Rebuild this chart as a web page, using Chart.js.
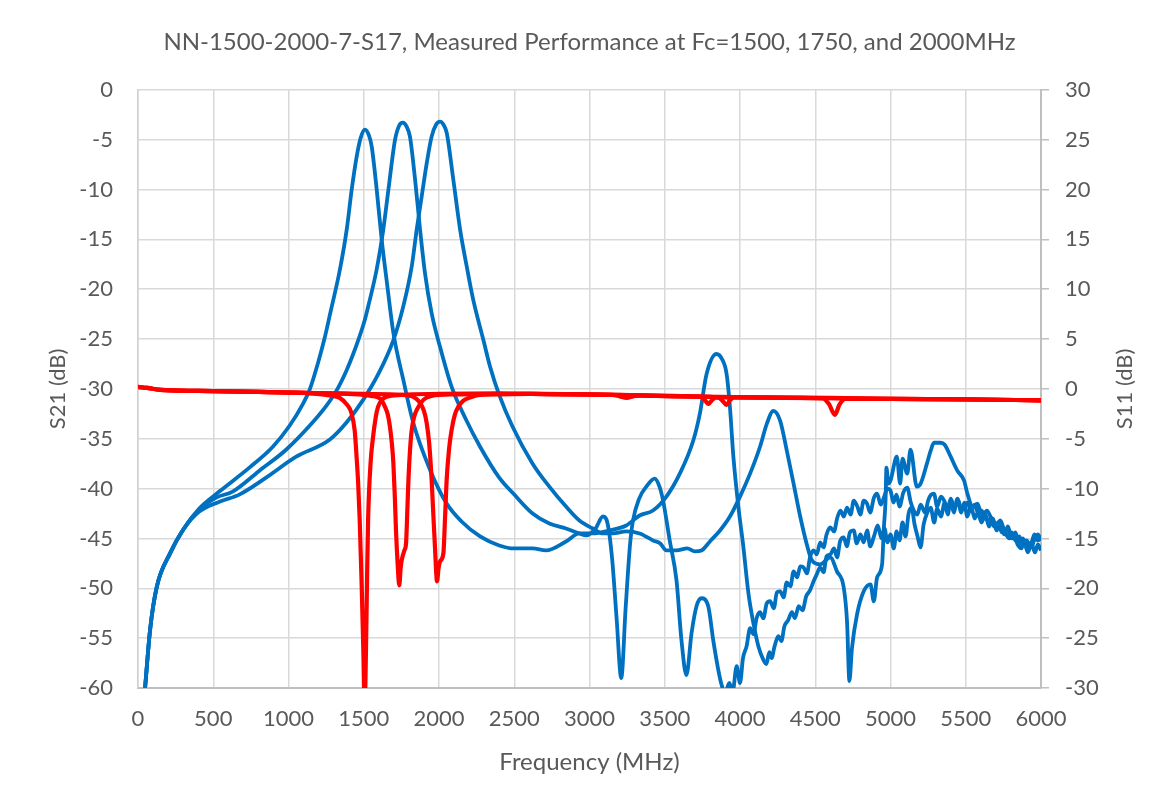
<!DOCTYPE html>
<html>
<head>
<meta charset="utf-8">
<script src="https://cdn.jsdelivr.net/npm/chart.js@4.4.1/dist/chart.umd.min.js"></script>
<style>
  html, body { margin: 0; padding: 0; background: #fff; }
  #wrap { width: 1167px; height: 807px; }
</style>
</head>
<body>
<div id="wrap"><canvas id="myChart" width="1167" height="807"></canvas></div>
<script>
// S21, Fc = 1500 MHz
const s21_1500_f = [47, 80, 124, 213, 301, 407, 540, 740, 896, 1007, 1096, 1140, 1196, 1240, 1276, 1342, 1387, 1420, 1453, 1480, 1508, 1535, 1553, 1586, 1619, 1652, 1697, 1763, 1829, 1940, 2051, 2150, 2273, 2400, 2500, 2622, 2711, 2844, 2933, 3022, 3133, 3244, 3333, 3422, 3511, 3600, 3689, 3733, 3778, 3844, 3880, 3911, 3933, 3956, 3989, 4022, 4056, 4089, 4122, 4156, 4175, 4195, 4210, 4230, 4255, 4275, 4295, 4320, 4345, 4365, 4390, 4415, 4440, 4465, 4489, 4510, 4533, 4555, 4575, 4600, 4625, 4645, 4665, 4689, 4710, 4730, 4756, 4775, 4800, 4822, 4845, 4865, 4890, 4915, 4940, 4960, 4980, 5000, 5022, 5040, 5060, 5080, 5100, 5120, 5140, 5160, 5180, 5200, 5220, 5245, 5267, 5290, 5310, 5335, 5360, 5380, 5400, 5420, 5445, 5470, 5490, 5510, 5535, 5560, 5580, 5605, 5630, 5655, 5680, 5705, 5730, 5756, 5780, 5805, 5830, 5855, 5880, 5911, 5935, 5960, 5980, 6000];
const s21_1500_db = [-60, -54.2, -49.9, -46.5, -44.1, -42, -40.3, -37.9, -35.8, -33.7, -31.5, -30.1, -27.4, -24.9, -22.5, -18, -14, -10, -6.7, -4.8, -4.0, -4.6, -5.7, -10, -15, -19.1, -24.4, -29.1, -33.4, -38.1, -41.5, -43.3, -44.8, -45.7, -46, -46, -46.2, -45.3, -44.5, -44.5, -44.2, -43.7, -42.7, -42.2, -40.8, -38.5, -35.2, -32.5, -28.5, -26.5, -27, -28.5, -31.8, -36.8, -41.8, -45.8, -50.5, -53.5, -55.8, -57.2, -57.6, -56.4, -57, -55.8, -54.8, -55.3, -53.8, -53.2, -52.4, -53, -51.8, -52.2, -50.8, -50.2, -49.3, -48.6, -47.9, -48.4, -46.8, -46.6, -46, -46.9, -45.3, -44.9, -45.8, -44.4, -44.2, -45.5, -44.6, -45.4, -44.2, -45.8, -44.8, -43.7, -45, -44, -45.4, -44.6, -46, -44.3, -45.2, -43.4, -44.8, -42.5, -41.9, -43.6, -44.8, -45.9, -43.6, -42.4, -41.9, -43.4, -42, -42.8, -41.4, -42.6, -41.2, -42.4, -41, -42.4, -41.4, -42.8, -41.8, -43, -42.4, -43.4, -42.6, -43.8, -43, -44.2, -43.6, -44.6, -43.8, -45, -44.4, -45.6, -45, -46.2, -45.4, -46.4, -45.6, -46.2];

// S21, Fc = 1750 MHz
const s21_1750_f = [47, 80, 124, 213, 301, 407, 520, 629, 807, 984, 1140, 1251, 1318, 1384, 1430, 1475, 1505, 1530, 1586, 1630, 1664, 1708, 1735, 1759, 1785, 1807, 1841, 1874, 1907, 1951, 2007, 2084, 2180, 2273, 2400, 2500, 2622, 2733, 2844, 2933, 2978, 3040, 3089, 3120, 3150, 3180, 3211, 3240, 3270, 3289, 3330, 3378, 3433, 3465, 3489, 3533, 3578, 3611, 3644, 3678, 3711, 3744, 3789, 3822, 3856, 3878, 3900, 3930, 3950, 3978, 4000, 4020, 4044, 4067, 4089, 4110, 4133, 4155, 4178, 4200, 4225, 4245, 4267, 4290, 4310, 4335, 4356, 4380, 4400, 4422, 4445, 4465, 4489, 4510, 4533, 4555, 4575, 4600, 4625, 4645, 4667, 4690, 4711, 4735, 4756, 4780, 4800, 4822, 4844, 4865, 4890, 4911, 4935, 4956, 4980, 5000, 5020, 5040, 5060, 5085, 5111, 5135, 5155, 5178, 5200, 5230, 5250, 5270, 5289, 5310, 5335, 5356, 5380, 5400, 5425, 5450, 5470, 5489, 5510, 5535, 5560, 5580, 5605, 5630, 5667, 5690, 5715, 5740, 5756, 5780, 5805, 5830, 5855, 5880, 5905, 5933, 5955, 5980, 6000];
const s21_1750_db = [-60, -54.2, -49.9, -46.5, -44.1, -42.1, -40.9, -40.3, -38.2, -36.1, -33.7, -31.7, -30.2, -28.2, -26.5, -24.6, -23.2, -21.7, -18, -14, -10, -5, -3.6, -3.3, -3.7, -4.7, -9, -14, -18.4, -22.4, -25.8, -29.8, -33.1, -35.8, -38.9, -40.6, -42.5, -43.5, -44, -44.5, -44.7, -44, -42.8, -43.5, -47, -53, -59, -52, -45.5, -43.2, -41, -39.8, -39, -39.8, -41.2, -45.2, -49.2, -55.2, -58.7, -54.5, -51.8, -51, -51.8, -55.2, -58.2, -59.7, -60.5, -59.5, -60.5, -57.8, -59.5, -57, -55.8, -54, -54.6, -53, -52.4, -53, -51.5, -51.3, -52, -50.4, -50.3, -50.9, -49.4, -49.8, -48.3, -48.9, -47.8, -47.9, -48.5, -46.9, -46.2, -46.6, -45.4, -45.9, -44.6, -43.9, -44.3, -43, -42.2, -42.8, -41.9, -42.6, -41.2, -41.8, -42.6, -41.2, -41.5, -42.4, -40.9, -40.5, -41.6, -40.9, -40, -40.2, -41.4, -40.6, -41.8, -40.4, -39.9, -41.4, -42.2, -42.6, -41.6, -42.4, -41.2, -40.6, -40.5, -41.8, -40.8, -41.2, -42, -41, -41.9, -41.2, -42, -41.9, -41.4, -42.2, -41.6, -42.4, -42.2, -43, -43.2, -43.8, -43.4, -44.4, -44.2, -44.8, -44.4, -45.2, -44.8, -45.6, -45.2, -45.9, -45.2, -44.6, -45.2];

// S21, Fc = 2000 MHz
const s21_2000_f = [47, 80, 124, 213, 301, 407, 545, 673, 851, 1051, 1273, 1384, 1496, 1597, 1697, 1763, 1819, 1852, 1885, 1918, 1951, 1980, 2007, 2030, 2051, 2095, 2140, 2184, 2228, 2295, 2340, 2400, 2489, 2622, 2733, 2844, 2933, 3022, 3089, 3156, 3244, 3333, 3422, 3470, 3511, 3578, 3650, 3700, 3744, 3800, 3867, 3933, 4000, 4067, 4133, 4178, 4222, 4267, 4311, 4356, 4400, 4444, 4478, 4533, 4600, 4644, 4689, 4711, 4727, 4744, 4778, 4822, 4867, 4889, 4911, 4944, 4956, 4967, 4973, 4986, 5000, 5042, 5064, 5080, 5111, 5133, 5175, 5200, 5242, 5267, 5289, 5333, 5360, 5400, 5444, 5489, 5511, 5545, 5578, 5610, 5640, 5667, 5700, 5730, 5756, 5790, 5820, 5844, 5870, 5890, 5911, 5935, 5956, 5980, 6000];
const s21_2000_db = [-60, -54.2, -49.9, -46.5, -44.1, -42.3, -41.3, -40.6, -38.9, -36.8, -35.1, -33.4, -31.1, -28.5, -25.1, -21.7, -17.7, -14, -10.7, -7.4, -4.7, -3.5, -3.2, -3.5, -4.3, -9, -14, -17.7, -21.1, -25.1, -27.8, -30.6, -33.8, -37.5, -39.8, -41.8, -43.2, -44, -44.5, -44.5, -44.3, -44.5, -45.2, -45.5, -46.2, -46.2, -46, -46.3, -46.2, -45.3, -44.2, -42.8, -40.8, -38.5, -35.8, -33.5, -32.2, -33.2, -36.2, -39.5, -42.8, -45.6, -47.2, -47.6, -46.9, -48.3, -49.9, -53.3, -59.3, -56, -52.6, -50.3, -49.6, -51.3, -48.9, -47.6, -43.9, -41.2, -37.9, -39.5, -39.2, -36.8, -39.5, -37, -38.5, -36.1, -39.8, -39.5, -37.5, -36.2, -35.4, -35.4, -35.6, -36.8, -38.2, -39.2, -40.5, -41.8, -41.5, -42.8, -42.2, -42.9, -43.8, -43.2, -44.2, -45, -44.6, -45.6, -46, -45.2, -46.4, -45.6, -44.6, -45.2, -44.9];

// S11, Fc = 1500 MHz
const s11_1500_f = [0, 60, 150, 400, 800, 1100, 1250, 1340, 1390, 1418, 1440, 1451, 1463, 1473, 1485, 1497, 1506, 1515, 1522, 1529, 1545, 1562, 1580, 1595, 1620, 1651, 1750, 2000, 2400, 2800, 3200, 3600, 3740, 3770, 3790, 3810, 3840, 4200, 4600, 5000, 5500, 6000];
const s11_1500_db = [0.2, 0.1, -0.1, -0.2, -0.3, -0.4, -0.6, -0.9, -1.6, -2.4, -4.2, -6.5, -9.5, -13.1, -19, -26, -32, -26, -19, -13.1, -7.5, -4.8, -2.8, -1.8, -1.1, -0.8, -0.6, -0.5, -0.45, -0.55, -0.6, -0.75, -0.8, -1.2, -1.5, -1.2, -0.85, -0.85, -0.9, -1.0, -1.05, -1.15];

// S11, Fc = 1750 MHz
const s11_1750_f = [0, 60, 150, 400, 800, 1100, 1400, 1550, 1610, 1641, 1660, 1674, 1687, 1697, 1707, 1714, 1725, 1736, 1745, 1752, 1770, 1781, 1790, 1797, 1808, 1819, 1835, 1852, 1896, 1950, 2100, 2600, 3150, 3200, 3247, 3290, 3330, 3700, 3860, 3890, 3911, 3930, 3960, 4300, 5000, 5500, 6000];
const s11_1750_db = [0.2, 0.1, -0.1, -0.2, -0.3, -0.4, -0.5, -0.7, -1.0, -1.8, -2.6, -3.8, -5.5, -7.5, -11, -14.1, -17.5, -19.7, -18, -17.2, -16.2, -15.5, -12, -9.1, -6, -4.1, -2.8, -2.1, -1.1, -0.7, -0.55, -0.5, -0.6, -0.75, -0.9, -0.75, -0.65, -0.75, -0.9, -1.3, -1.6, -1.2, -0.85, -0.9, -1.0, -1.05, -1.15];

// S11, Fc = 2000 MHz
const s11_2000_f = [0, 60, 150, 400, 800, 1100, 1500, 1750, 1820, 1850, 1874, 1900, 1918, 1935, 1951, 1962, 1973, 1987, 1997, 2007, 2029, 2040, 2051, 2067, 2084, 2105, 2128, 2160, 2200, 2273, 2600, 3000, 3600, 4400, 4550, 4590, 4631, 4660, 4700, 5000, 5500, 6000];
const s11_2000_db = [0.2, 0.1, -0.1, -0.2, -0.3, -0.4, -0.5, -0.6, -0.75, -1.0, -1.4, -2.2, -3.4, -5.5, -9.1, -12.5, -15.8, -19.3, -18, -17.3, -16.5, -13, -9.1, -6, -4.1, -2.6, -1.8, -1.2, -0.9, -0.6, -0.5, -0.55, -0.75, -0.9, -0.95, -1.5, -2.6, -1.6, -1.0, -1.0, -1.05, -1.15];

const BLUE = '#0070C0';
const RED = '#FF0000';
const TEXT = '#595959';
const FONT = 'Lato, "Open Sans", sans-serif';

const pts = (f, v) => f.map((x, i) => ({ x: x, y: v[i] }));

function line(label, f, v, color, axis, order) {
  return {
    label: label,
    data: pts(f, v),
    borderColor: color,
    backgroundColor: color,
    borderWidth: color === RED ? 4.2 : 3.8,
    pointRadius: 0,
    fill: false,
    cubicInterpolationMode: 'monotone',
    yAxisID: axis,
    order: order
  };
}

// right-hand axis title reads bottom-to-top, like the left one
const rightTitle = {
  id: 'rightTitle',
  afterDraw(chart) {
    const c = chart.ctx;
    const a = chart.chartArea;
    c.save();
    c.translate(1125, (a.top + a.bottom) / 2);
    c.rotate(-Math.PI / 2);
    c.fillStyle = TEXT;
    c.font = '22px ' + FONT;
    c.textAlign = 'center';
    c.textBaseline = 'middle';
    c.fillText('S11 (dB)', 0, 0);
    c.restore();
  }
};

const ctx = document.getElementById('myChart').getContext('2d');
const chart = new Chart(ctx, {
  type: 'line',
  data: {
    datasets: [
      line('S11 1500', s11_1500_f, s11_1500_db, RED, 'y2', 0),
      line('S11 1750', s11_1750_f, s11_1750_db, RED, 'y2', 0),
      line('S11 2000', s11_2000_f, s11_2000_db, RED, 'y2', 0),
      line('S21 1500', s21_1500_f, s21_1500_db, BLUE, 'y', 1),
      line('S21 1750', s21_1750_f, s21_1750_db, BLUE, 'y', 1),
      line('S21 2000', s21_2000_f, s21_2000_db, BLUE, 'y', 1)
    ]
  },
  options: {
    responsive: false,
    animation: false,
    devicePixelRatio: 1,
    layout: { padding: { left: 12, right: 0, top: 0, bottom: 0 } },
    plugins: {
      legend: { display: false },
      tooltip: { enabled: false },
      title: {
        display: true,
        text: 'NN-1500-2000-7-S17, Measured Performance at Fc=1500, 1750, and 2000MHz',
        color: TEXT,
        font: { family: FONT, size: 24, weight: 'normal', lineHeight: 1.2 },
        padding: { top: 28, bottom: 33 }
      }
    },
    scales: {
      x: {
        type: 'linear',
        min: 0,
        max: 6000,
        ticks: { stepSize: 500, color: TEXT, font: { family: FONT, size: 22 }, padding: 18, maxRotation: 0, callback: v => String(v) },
        grid: { color: '#D9D9D9', lineWidth: 1.5, drawTicks: false },
        border: { color: '#BFBFBF', width: 2 },
        title: { display: true, text: 'Frequency (MHz)', color: TEXT, font: { family: FONT, size: 24, lineHeight: 1.2 }, padding: { top: 0, bottom: 30 } },
        afterFit: s => { s.height = 807 - 688; }
      },
      y: {
        position: 'left',
        min: -60,
        max: 0,
        ticks: { stepSize: 5, color: TEXT, font: { family: FONT, size: 22 }, padding: 25 },
        grid: { color: '#D9D9D9', lineWidth: 1.5, drawTicks: false },
        border: { color: '#D0D0D0', width: 1.5 },
        title: { display: true, text: 'S21 (dB)', color: TEXT, font: { family: FONT, size: 22, lineHeight: 1.2 }, padding: { top: 33, bottom: 0 } },
        afterFit: s => { s.width = 138 - 12; }
      },
      y2: {
        position: 'right',
        min: -30,
        max: 30,
        ticks: { stepSize: 5, color: TEXT, font: { family: FONT, size: 22 }, padding: 16 },
        grid: { drawOnChartArea: false, color: '#BFBFBF', lineWidth: 1.5, drawTicks: true, tickLength: 8 },
        border: { color: '#BFBFBF', width: 2 },
        title: { display: false },
        afterFit: s => { s.width = 1167 - 1041; }
      }
    }
  },
  plugins: [rightTitle]
});
</script>
</body>
</html>
